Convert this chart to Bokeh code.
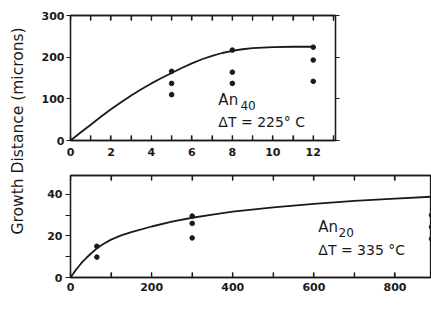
from math import pi
from bokeh.plotting import figure
from bokeh.layouts import row, column
from bokeh.models import Range1d, LinearAxis, FixedTicker, Label
from bokeh.embed import file_html
from bokeh.resources import INLINE

# ---- Top panel: An40, dT = 225 C ----
top_curve_t = [0, 0.5, 1, 1.5, 2, 2.5, 3, 3.5, 4, 4.5, 5, 5.5, 6, 6.5, 7, 7.5, 8, 8.5, 9, 9.5, 10, 11, 12]
top_curve_d = [0, 19, 38, 57, 75, 92, 108, 123, 137, 150, 162, 174, 185, 195, 203, 210, 215, 219, 221.5, 223, 224, 225, 225]
top_pts_t = [5, 5, 5, 8, 8, 8, 12, 12, 12]
top_pts_d = [166, 137, 110, 217, 164, 137, 224, 193, 142]
top_xticks = [0, 2, 4, 6, 8, 10, 12]
top_xminor = [1, 3, 5, 7, 9, 11, 13]
top_yticks = [0, 100, 200, 300]

# ---- Bottom panel: An20, dT = 335 C ----
bot_curve_t = [0, 10, 20, 30, 40, 50, 65, 80, 100, 125, 150, 200, 250, 300, 350, 400, 500, 600, 700, 800, 890]
bot_curve_d = [0, 2.8, 5.3, 7.6, 9.6, 11.4, 14, 16, 18.2, 20.2, 21.8, 24.5, 26.8, 28.7, 30.2, 31.6, 33.7, 35.4, 36.8, 37.9, 38.8]
bot_pts_t = [65, 65, 300, 300, 300, 890, 890, 890]
bot_pts_d = [15, 9.8, 29.5, 26, 19, 30, 24.2, 18.6]
bot_xticks = [0, 200, 400, 600, 800]
bot_xminor = [100, 300, 500, 700]
bot_yticks = [0, 20, 40]
bot_yminor = [10, 30]

INK = "#1a1a1a"
TICK_FONT = "DejaVu Sans"
TEXT_FONT = "DejaVu Sans"
TICK_PX = 5


def make_axis(ticks, minor, tick_in, tick_out, labels=True, standoff=3):
    ax = LinearAxis(ticker=FixedTicker(ticks=ticks, minor_ticks=minor))
    ax.axis_line_color = INK
    ax.axis_line_width = 1.3
    ax.major_tick_line_color = INK
    ax.major_tick_line_width = 1.2
    ax.minor_tick_line_color = INK
    ax.minor_tick_line_width = 1.2
    ax.major_tick_in = tick_in
    ax.major_tick_out = tick_out
    ax.minor_tick_in = tick_in
    ax.minor_tick_out = tick_out
    ax.major_label_text_font = TICK_FONT
    ax.major_label_text_font_style = "bold"
    ax.major_label_text_font_size = "11px"
    ax.major_label_text_color = INK
    ax.major_label_standoff = standoff
    if not labels:
        ax.major_label_overrides = {t: "" for t in ticks}
        ax.major_label_standoff = 0
    return ax


def inner_x_ticks(p, ticks, y_lo, y_hi, frame_h):
    # tick marks pointing into the frame from the bottom and top edges
    ln = (y_hi - y_lo) * TICK_PX / frame_h
    n = len(ticks)
    p.segment(x0=ticks, x1=ticks, y0=[y_lo] * n, y1=[y_lo + ln] * n, line_color=INK, line_width=1.2)
    p.segment(x0=ticks, x1=ticks, y0=[y_hi] * n, y1=[y_hi - ln] * n, line_color=INK, line_width=1.2)


def add_text(p, x, y, txt, size="14px"):
    p.add_layout(Label(x=x, y=y, text=txt, text_font=TEXT_FONT, text_font_size=size,
                       text_color=INK, text_align="left", text_baseline="middle"))


# ---- y-axis title strip ----
p0 = figure(width=38, height=328, x_range=Range1d(0, 38), y_range=Range1d(0, 328),
            x_axis_type=None, y_axis_type=None, toolbar_location=None,
            output_backend="svg", min_border=0, outline_line_color=None)
p0.add_layout(Label(x=17.5, y=200, text="Growth  Distance (microns)", angle=pi / 2,
                    text_font=TEXT_FONT, text_font_size="15.5px", text_color=INK,
                    text_align="center", text_baseline="middle"))

# ---- top panel ----
p1 = figure(frame_width=265, frame_height=125, x_range=Range1d(0, 13.1), y_range=Range1d(0, 300),
            x_axis_type=None, y_axis_type=None, toolbar_location=None, output_backend="svg",
            min_border_left=32, min_border_right=10, min_border_top=15, min_border_bottom=20,
            outline_line_color=INK, outline_line_width=1.3)
p1.add_layout(make_axis(top_xticks, top_xminor, 5, 0, True, 7), "below")
p1.add_layout(make_axis(top_xticks, top_xminor, 5, 0, False), "above")
p1.add_layout(make_axis(top_yticks, [], 0, 4, True, 2), "left")
p1.add_layout(make_axis(top_yticks, [], 0, 4, False), "right")
inner_x_ticks(p1, top_xticks + top_xminor, 0, 300, 125)
p1.line(top_curve_t, top_curve_d, line_width=1.8, line_color=INK)
p1.circle(top_pts_t, top_pts_d, radius=2.3, radius_units="screen", color=INK)
add_text(p1, 7.31, 98, "An", "15px")
add_text(p1, 8.4, 83, "40", "12px")
add_text(p1, 7.31, 44, "\u0394T = 225\u00b0 C", "14px")

# ---- bottom panel ----
p2 = figure(frame_width=361, frame_height=102, x_range=Range1d(0, 890), y_range=Range1d(0, 49),
            x_axis_type=None, y_axis_type=None, toolbar_location=None, output_backend="svg",
            min_border_left=32, min_border_right=0, min_border_top=15, min_border_bottom=51,
            outline_line_color=INK, outline_line_width=1.3)
p2.add_layout(make_axis(bot_xticks, bot_xminor, 5, 0, True, 5), "below")
p2.add_layout(make_axis(bot_xticks, bot_xminor, 5, 0, False), "above")
p2.add_layout(make_axis(bot_yticks, bot_yminor, 0, 5, True, 3), "left")
inner_x_ticks(p2, bot_xticks + bot_xminor, 0, 49, 102)
p2.line(bot_curve_t, bot_curve_d, line_width=1.8, line_color=INK)
p2.circle(bot_pts_t, bot_pts_d, radius=2.3, radius_units="screen", color=INK)
add_text(p2, 611, 24.5, "An", "15px")
add_text(p2, 661, 21.6, "20", "12px")
add_text(p2, 611, 13, "\u0394T = 335 \u00b0C", "14px")
p2.add_layout(Label(x=409, y=-16.3, text="Time (min)", text_font=TEXT_FONT, text_font_size="14px",
                    text_color=INK, text_align="center", text_baseline="middle"))

layout = row(p0, column(p1, p2))
open("out.html", "w").write(file_html(layout, INLINE))
